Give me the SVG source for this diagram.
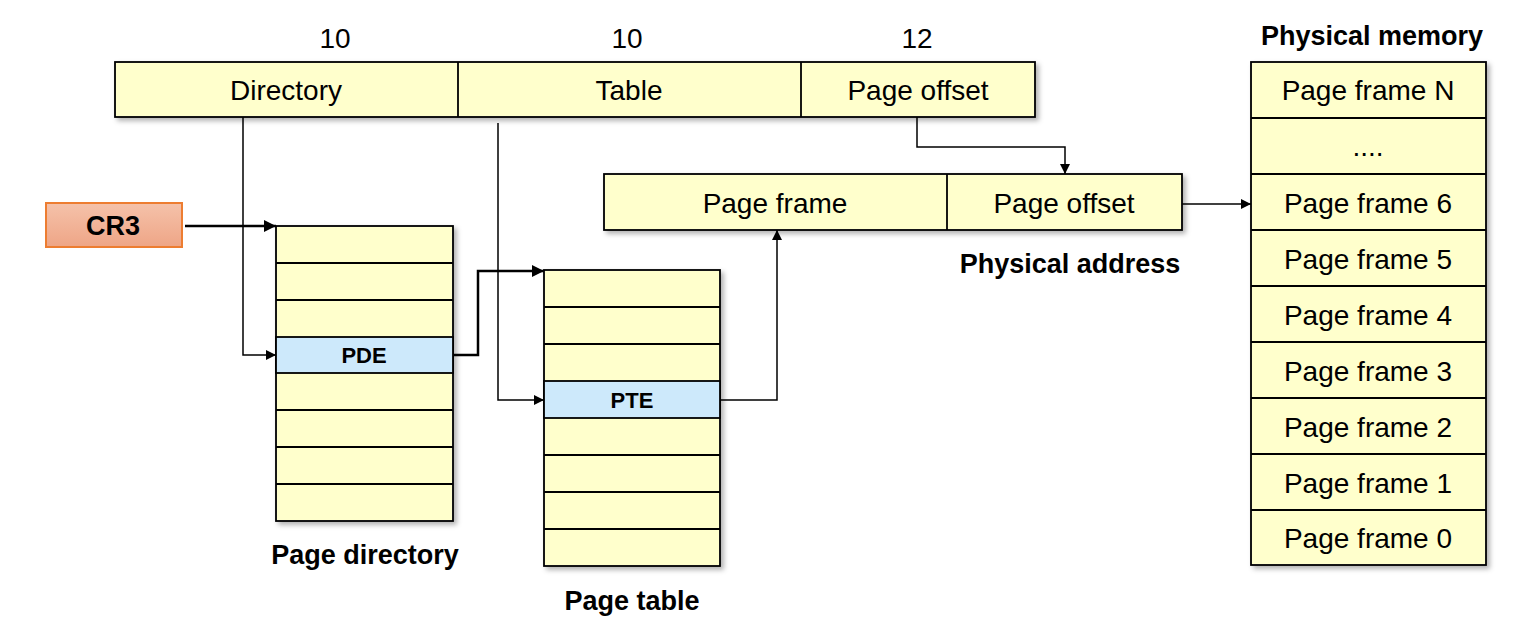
<svg xmlns="http://www.w3.org/2000/svg" width="1514" height="630" viewBox="0 0 1514 630">
<defs>
<filter id="sh" x="-10%" y="-10%" width="130%" height="130%">
<feDropShadow dx="3" dy="3" stdDeviation="2.5" flood-color="#000" flood-opacity="0.3"/>
</filter>
<linearGradient id="cr3g" x1="0" y1="0" x2="0" y2="1">
<stop offset="0" stop-color="#f5c2aa"/>
<stop offset="1" stop-color="#eea586"/>
</linearGradient>
<marker id="ah" viewBox="0 0 10 10" refX="10" refY="5" markerWidth="10" markerHeight="10" markerUnits="userSpaceOnUse" orient="auto">
<path d="M0,0 L10,5 L0,10 z" fill="#000"/>
</marker>
<marker id="ahb" viewBox="0 0 10 10" refX="10" refY="5" markerWidth="12" markerHeight="12" markerUnits="userSpaceOnUse" orient="auto">
<path d="M0,0 L10,5 L0,10 z" fill="#000"/>
</marker>
</defs>
<style>
.y{fill:#ffffcc;stroke:#000;stroke-width:1.8}
.b{fill:#cde9fb;stroke:#000;stroke-width:1.8}
.ln{stroke:#000;stroke-width:1.8}
.t{font-family:"Liberation Sans",Arial,sans-serif;font-size:28px;fill:#000;text-anchor:middle;dominant-baseline:central}
.tb{font-family:"Liberation Sans",Arial,sans-serif;font-size:27px;font-weight:bold;fill:#000;text-anchor:middle;dominant-baseline:central}
.ts{font-family:"Liberation Sans",Arial,sans-serif;font-size:22px;font-weight:bold;fill:#000;text-anchor:middle;dominant-baseline:central}
.c{fill:none;stroke:#000;stroke-width:1.5}
.ck{fill:none;stroke:#000;stroke-width:2.5}
</style>

<g id="linear-address">
<rect x="115" y="62" width="920" height="55" class="y" filter="url(#sh)"/>
<line x1="458" y1="62" x2="458" y2="117" class="ln"/>
<line x1="801" y1="62" x2="801" y2="117" class="ln"/>
<text x="286" y="90" class="t">Directory</text>
<text x="629" y="90" class="t">Table</text>
<text x="918" y="90" class="t">Page offset</text>
<text x="335" y="38" class="t">10</text>
<text x="627" y="38" class="t">10</text>
<text x="917" y="38" class="t">12</text>
</g>

<g id="cr3">
<rect x="46" y="203" width="136" height="44" fill="url(#cr3g)" stroke="#ed7d31" stroke-width="2"/>
<text x="113" y="226" class="tb">CR3</text>
</g>

<g id="page-directory">
<rect x="276" y="226" width="177" height="295" class="y" filter="url(#sh)"/>
<rect x="276" y="337" width="177" height="36" class="b"/>
<line x1="276" y1="263" x2="453" y2="263" class="ln"/>
<line x1="276" y1="300" x2="453" y2="300" class="ln"/>
<line x1="276" y1="410" x2="453" y2="410" class="ln"/>
<line x1="276" y1="447" x2="453" y2="447" class="ln"/>
<line x1="276" y1="484" x2="453" y2="484" class="ln"/>
<text x="364" y="355" class="ts">PDE</text>
<text x="365" y="555" class="tb">Page directory</text>
</g>

<g id="page-table">
<rect x="544" y="270" width="176" height="296" class="y" filter="url(#sh)"/>
<rect x="544" y="381" width="176" height="37" class="b"/>
<line x1="544" y1="307" x2="720" y2="307" class="ln"/>
<line x1="544" y1="344" x2="720" y2="344" class="ln"/>
<line x1="544" y1="455" x2="720" y2="455" class="ln"/>
<line x1="544" y1="492" x2="720" y2="492" class="ln"/>
<line x1="544" y1="529" x2="720" y2="529" class="ln"/>
<text x="632" y="400" class="ts">PTE</text>
<text x="632" y="601" class="tb">Page table</text>
</g>

<g id="physical-address">
<rect x="604" y="174" width="578" height="56" class="y" filter="url(#sh)"/>
<line x1="947" y1="174" x2="947" y2="230" class="ln"/>
<text x="775" y="203" class="t">Page frame</text>
<text x="1064" y="203" class="t">Page offset</text>
<text x="1070" y="264" class="tb">Physical address</text>
</g>

<g id="physical-memory">
<text x="1372" y="36" class="tb">Physical memory</text>
<rect x="1251" y="62" width="235" height="503" class="y" filter="url(#sh)"/>
<line x1="1251" y1="118" x2="1486" y2="118" class="ln"/>
<line x1="1251" y1="174" x2="1486" y2="174" class="ln"/>
<line x1="1251" y1="230" x2="1486" y2="230" class="ln"/>
<line x1="1251" y1="286" x2="1486" y2="286" class="ln"/>
<line x1="1251" y1="342" x2="1486" y2="342" class="ln"/>
<line x1="1251" y1="398" x2="1486" y2="398" class="ln"/>
<line x1="1251" y1="454" x2="1486" y2="454" class="ln"/>
<line x1="1251" y1="510" x2="1486" y2="510" class="ln"/>
<text x="1368" y="90" class="t">Page frame N</text>
<text x="1368" y="146" class="t">....</text>
<text x="1368" y="203" class="t">Page frame 6</text>
<text x="1368" y="259" class="t">Page frame 5</text>
<text x="1368" y="315" class="t">Page frame 4</text>
<text x="1368" y="371" class="t">Page frame 3</text>
<text x="1368" y="427" class="t">Page frame 2</text>
<text x="1368" y="483" class="t">Page frame 1</text>
<text x="1368" y="538" class="t">Page frame 0</text>
</g>

<g id="connectors">
<polyline points="243,117 243,355 276,355" class="c" marker-end="url(#ah)"/>
<polyline points="185,226 276,226" class="ck" marker-end="url(#ahb)"/>
<polyline points="498,123 498,400 544,400" class="c" marker-end="url(#ah)"/>
<polyline points="453,355 478,355 478,271 544,271" class="ck" marker-end="url(#ahb)"/>
<polyline points="720,400 777,400 777,230" class="c" marker-end="url(#ah)"/>
<polyline points="917,117 917,147 1065,147 1065,174" class="c" marker-end="url(#ah)"/>
<polyline points="1182,204 1251,204" class="c" marker-end="url(#ah)"/>
</g>
</svg>
